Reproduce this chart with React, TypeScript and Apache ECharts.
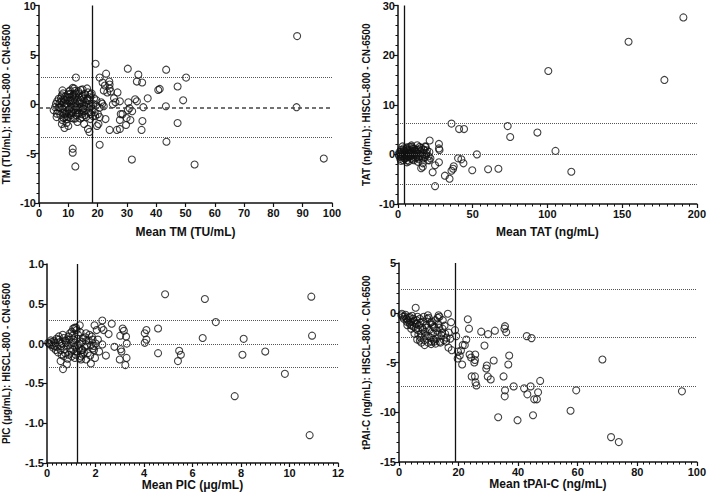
import React, { useEffect, useRef } from "react";
import * as echarts from "echarts";

// ---- Data ----
const tmPoints: [number, number][] = [
  [88.1, 6.9], [87.9, -0.3], [97.2, -5.5], [53.1, -6.1], [31.7, -5.6], [12.4, -6.3], [11.5, -4.5], [11.5, -4.9],
  [20.7, -4.1], [43.5, -3.8], [50.2, 2.7], [43.4, 3.5], [30.3, 3.6], [33.9, 3.0], [33.4, 2.3], [35.2, 2.2],
  [19.3, 4.1], [22.9, 3.1], [20.7, 2.7], [12.6, 2.7], [47.3, 1.8], [49.2, 0.4], [40.7, 1.45], [41.2, 1.55],
  [37.1, 0.6], [43.3, -0.2], [35.6, -0.3], [32.8, 0.5], [33.4, 0.3], [35.3, -1.7], [35.0, -2.6], [47.3, -1.9],
  [30.5, 0.2], [30.9, -0.4], [30.3, -0.6], [31.8, -0.7], [31.2, -1.6], [29.9, -1.4], [29.7, -2.1], [27.6, -1.6],
  [27.9, -1.0], [28.5, -1.0], [27.6, 0.3], [26.6, -2.6], [27.6, -2.5], [24.1, -2.6], [26.8, 1.2], [25.6, 0.6],
  [24.1, 1.6], [24.5, 1.3], [22.5, 1.9], [24.1, 2.0], [24.0, 2.3], [22.1, 1.4], [23.3, 1.2], [21.7, 2.2],
  [26.1, 0.2], [25.2, 0.0], [22.7, -1.5], [20.3, -2.0], [19.8, -2.2], [19.2, -1.2], [20.1, -1.0], [20.7, -1.3],
  [21.2, 0.2], [21.6, 0.05], [22.1, -0.2], [19.6, 0.4], [20.7, -0.35], [19.0, -0.8], [18.1, -0.45], [18.5, 0.05],
  [17.6, -1.0], [16.7, -2.5], [17.2, -2.8], [15.4, -2.0], [7.8, -2.0], [8.7, -2.4], [10.0, -2.2],
  [5.0, -0.6], [5.8, 0.05], [6.7, 0.55], [7.2, -0.3], [7.8, 0.9], [8.4, 0.2], [8.7, -1.0], [9.1, -0.3],
  [9.5, 0.7], [9.8, -1.3], [10.0, 0.4], [10.4, -0.45], [10.7, 1.05], [10.9, -1.1], [11.1, 0.05], [11.5, 1.65],
  [11.8, -0.6], [12.0, 0.55], [12.3, -1.45], [12.6, 1.1], [12.9, -0.2], [13.2, -0.95], [13.6, 0.7], [13.9, 0.2],
  [14.3, 1.45], [14.5, -0.6], [14.8, -1.3], [15.2, 0.55], [15.6, 1.05], [16.0, -0.2], [16.3, 0.4], [16.7, 1.2],
  [17.1, -0.8], [17.4, 0.7], [15.7, -1.1], [6.1, -0.95], [6.9, -0.35], [7.6, 0.3], [8.0, -0.8], [8.5, 0.5],
  [8.9, -1.3], [9.3, 0.05], [9.6, -0.7], [10.3, -0.95], [10.6, 0.4], [11.0, -0.3], [11.4, 0.85], [11.7, 0.4],
  [12.5, 0.05], [12.8, -0.6], [13.4, -0.35], [13.8, -0.9], [14.2, 0.05], [14.7, 0.7], [15.1, -0.45], [16.2, -0.6],
  [15.4, -0.1], [16.9, 0.0], [14.1, -1.45], [11.7, -1.45], [9.5, -1.5], [8.4, -1.4], [8.9, 0.75], [6.7, -0.3],
  [10.6, 1.4], [12.3, 1.35], [13.4, 1.3], [16.5, 0.6], [17.6, 1.0], [11.1, -0.75],
  [5.5, -0.3], [6.2, 0.3], [6.5, -0.7], [7.0, 0.1], [7.3, -1.1], [7.5, 0.6], [8.1, -0.5], [8.2, 1.1],
  [8.6, -0.1], [9.0, 0.4], [9.2, -0.9], [9.7, 0.0], [9.9, 1.0], [10.2, -0.6], [10.5, 0.7], [10.8, -1.4],
  [11.2, 0.3], [11.3, -0.9], [11.9, 1.0], [12.1, -0.2], [12.4, 0.8], [12.7, -1.1], [13.0, 0.3], [13.3, -0.6],
  [13.7, 1.1], [14.0, -0.3], [14.4, 0.4], [14.6, -1.0], [15.0, 0.9], [15.3, -0.7], [15.8, 0.2], [16.1, -1.3],
  [16.6, -0.3], [17.0, 0.4], [17.8, -0.2], [18.4, -1.2], [18.8, 0.6], [9.4, -1.9], [13.1, -1.8], [7.9, -1.6],
  [12.0, 1.6], [14.9, 1.5], [16.4, 1.6], [10.3, 1.3], [8.0, 1.4], [6.0, -1.3], [17.5, -1.5], [19.5, -0.1],
  [18.0, 1.1],
];
const tmLines = { upper: 2.7, mean: -0.32, lower: -3.33, cutoff: 18.1 };

const tatPoints: [number, number][] = [
  [191, 27.6], [154.3, 22.7], [178.3, 15.0], [100.6, 16.8], [35.8, 6.2], [73.4, 5.7], [40.9, 5.1], [44.2, 5.1],
  [93.3, 4.4], [75.1, 3.5], [105.4, 0.7], [116.0, -3.5], [67.2, -2.9], [60.3, -3.0], [49.7, -3.2], [52.8, 0.0],
  [24.8, -6.4], [34.5, -4.9], [31.4, -4.3], [23.2, -3.6], [24.8, -2.2], [27.4, -1.6], [35.8, -3.3], [36.9, -2.9],
  [37.3, -2.4], [40.2, -0.8], [42.4, -1.0], [43.8, -1.8], [21.2, 2.8], [27.4, 2.1], [27.4, 1.2], [27.8, 0.9],
  [19.4, 0.8], [18.1, 1.6], [21.7, -0.8], [21.0, -1.2], [16.6, -1.8], [15.5, -2.8], [16.6, -2.5],
  [0.4, 0.0], [2.2, 0.5], [3.3, -0.37], [4.4, 0.3], [5.5, -0.5], [6.6, 0.84], [7.7, 0.03], [8.8, -0.84],
  [9.9, 1.17], [11.0, -0.17], [12.2, 0.5], [13.3, -0.64], [14.4, 1.5], [15.5, 0.17], [16.6, -0.84], [17.7, 0.84],
  [18.8, -0.17], [19.9, -1.17], [13.3, -1.5], [10.6, -1.17], [7.7, 1.5], [12.8, 1.84], [15.5, 1.3], [8.8, 0.5],
  [4.4, -0.84], [6.2, -1.17], [14.6, -0.37], [17.2, 0.03], [18.6, 1.5], [21.0, 0.5], [2.7, 0.0], [4.0, 0.84],
  [4.9, -0.17], [7.1, -0.5], [8.4, 0.3], [9.3, 1.5], [11.5, 0.84], [12.4, -0.5], [10.2, 0.17], [5.7, 1.17],
  [1.3, 0.17], [1.8, -0.5],
  [0.8, -0.4], [1.0, 0.5], [1.5, -0.9], [2.0, 0.9], [2.4, -0.3], [3.0, 0.4], [3.5, -1.2], [3.8, 1.2],
  [4.2, -0.1], [4.7, 0.6], [5.0, -0.8], [5.3, 0.2], [5.9, 1.4], [6.3, -0.3], [6.9, 0.4], [7.3, -1.4],
  [7.9, 0.9], [8.2, -0.4], [9.0, -0.1], [9.6, 0.7], [10.0, -1.0], [10.8, 1.1], [11.2, 0.2], [11.8, -0.7],
  [12.6, 0.9], [13.0, 0.1], [13.8, 1.0], [14.2, -1.0], [15.0, 0.6], [16.0, -0.3], [17.0, 1.0], [18.0, -0.6],
  [19.0, 0.3], [20.5, -0.4], [3.0, 1.6], [9.0, 1.8], [6.0, -1.6], [2.0, -1.3],
];
const tatLines = { upper: 6.3, mean: 0.05, lower: -6.05, cutoff: 4 };

const picPoints: [number, number][] = [
  [4.87, 0.62], [6.51, 0.56], [10.9, 0.59], [6.96, 0.27], [6.42, 0.07], [8.11, 0.06], [10.93, 0.1], [8.06, -0.14],
  [9.0, -0.1], [9.81, -0.38], [7.74, -0.66], [10.83, -1.15], [5.45, -0.09], [5.4, -0.22], [5.52, -0.14], [4.58, -0.12],
  [4.58, 0.19], [4.03, 0.01], [4.1, 0.05], [4.1, 0.17], [4.03, 0.13], [3.29, 0.0], [3.26, 0.09], [3.23, -0.27],
  [3.28, -0.18], [3.17, 0.16], [3.12, 0.19], [3.02, 0.1], [3.04, -0.07], [3.07, -0.1], [3.0, -0.2], [2.78, -0.04],
  [2.67, 0.25], [2.43, -0.15], [2.54, 0.12], [2.28, -0.01], [2.28, 0.29], [2.25, 0.2], [2.33, 0.17], [2.05, 0.17],
  [1.96, 0.23], [1.88, -0.06], [1.81, -0.25], [1.61, -0.2], [1.46, -0.08], [1.4, -0.16], [1.35, 0.23], [1.08, 0.19],
  [1.14, 0.2], [0.66, -0.32], [0.82, -0.26], [0.56, -0.22],
  [0.09, 0.0], [0.22, -0.02], [0.29, 0.03], [0.42, -0.04], [0.49, 0.05], [0.56, -0.08], [0.62, 0.0], [0.69, 0.07],
  [0.75, -0.12], [0.82, -0.02], [0.89, 0.09], [0.95, -0.06], [1.02, -0.16], [1.08, 0.05], [1.15, -0.04], [1.22, -0.1],
  [1.28, 0.11], [1.35, 0.0], [1.42, -0.08], [1.48, 0.07], [1.55, -0.04], [1.61, 0.03], [1.68, -0.12], [1.75, 0.11],
  [1.81, -0.02], [1.88, 0.05], [1.94, -0.08], [2.01, 0.0], [1.02, 0.15], [1.22, 0.17], [0.89, -0.14], [1.15, -0.18],
  [1.35, -0.18], [0.36, -0.08], [0.69, -0.16], [0.49, 0.09], [1.48, -0.14], [1.61, 0.13], [0.16, 0.04], [1.28, -0.02],
  [0.79, 0.03], [0.98, 0.0], [1.08, -0.08],
  [0.05, 0.01], [0.12, -0.01], [0.18, 0.02], [0.25, -0.05], [0.32, 0.01], [0.39, 0.06], [0.45, -0.11], [0.52, 0.02],
  [0.59, -0.03], [0.65, 0.11], [0.72, -0.07], [0.78, 0.01], [0.85, -0.19], [0.92, 0.05], [1.0, -0.1], [1.05, 0.1],
  [1.12, 0.01], [1.18, -0.14], [1.25, 0.06], [1.32, -0.06], [1.38, 0.14], [1.45, 0.02], [1.52, -0.11], [1.58, 0.08],
  [1.65, -0.02], [1.72, 0.04], [1.78, -0.15], [1.85, 0.09], [1.92, -0.03], [1.98, -0.18], [2.1, 0.05], [2.15, -0.1],
  [0.6, -0.14], [0.95, 0.13], [1.2, 0.2], [1.4, -0.2], [0.3, -0.03], [0.75, 0.04],
];
const picLines = { upper: 0.29, mean: -0.01, lower: -0.3, cutoff: 1.26 };

const tpaiPoints: [number, number][] = [
  [95.0, -7.9], [68.3, -4.7], [59.5, -7.8], [57.6, -9.85], [71.2, -12.5], [73.8, -13.0], [33.3, -10.5], [39.8, -10.8],
  [45.0, -10.3], [45.4, -8.7], [46.3, -8.7], [46.7, -8.0], [47.4, -6.85], [44.2, -7.4], [43.1, -8.2], [42.0, -7.6],
  [38.5, -7.4], [35.6, -7.8], [35.5, -8.4], [35.1, -6.4], [36.7, -5.2], [37.0, -4.3], [42.9, -2.35], [44.5, -2.55],
  [35.6, -1.35], [35.4, -1.6], [36.0, -1.95], [32.2, -1.8], [27.6, -1.9], [29.9, -2.15], [28.7, -3.3], [31.8, -4.8],
  [30.8, -6.7], [29.8, -6.4], [29.5, -5.3], [29.3, -5.6], [25.5, -6.4], [25.7, -7.0], [26.0, -7.3], [24.4, -6.4],
  [23.1, -0.65], [23.5, -1.6], [22.6, -2.7], [22.1, -3.25], [21.4, -3.25], [23.7, -4.2], [24.2, -4.5], [25.6, -4.2],
  [25.5, -4.75], [25.3, -5.0], [21.2, -5.2], [20.4, -4.3], [20.8, -3.8], [19.7, -4.6], [19.8, -3.9], [18.8, -1.75],
  [19.2, -2.35], [17.7, -3.76], [16.6, -3.5], [16.4, -0.1], [17.5, -0.95], [13.3, -0.25], [5.6, 0.5],
  [0.8, -0.25], [1.3, -0.4], [1.9, -0.35], [2.5, -0.6], [3.0, -0.75], [2.8, -1.25], [3.6, -0.4], [4.1, -0.9],
  [4.7, -0.6], [5.0, -1.4], [5.5, -1.1], [5.9, -0.75], [6.4, -1.75], [6.7, -1.25], [7.0, -0.6], [7.5, -2.1],
  [7.8, -1.5], [8.1, -0.9], [8.6, -2.75], [8.8, -1.9], [9.1, -1.25], [9.5, -0.6], [9.9, -2.35], [10.3, -1.7],
  [10.6, -1.0], [11.0, -2.9], [11.4, -2.1], [11.7, -1.4], [12.2, -0.75], [12.5, -2.6], [12.8, -1.8], [13.3, -1.15],
  [13.7, -2.9], [14.2, -2.25], [14.6, -1.6], [15.1, -2.75], [15.5, -2.1], [16.0, -2.5], [14.7, -0.75], [13.6, -0.4],
  [4.1, -1.6], [5.2, -2.1], [6.1, -2.7], [7.5, -3.0], [8.6, -3.25], [10.8, -3.15], [11.9, -2.9], [9.7, -0.25],
  [1.0, -0.1], [1.6, -0.6], [2.2, -0.2], [2.6, -0.9], [3.3, -0.5], [3.8, -1.2], [4.4, -0.3], [4.4, -1.3],
  [5.1, -0.8], [5.7, -1.6], [6.2, -0.4], [6.5, -2.2], [7.2, -1.0], [7.3, -2.5], [8.0, -1.7], [8.3, -0.4],
  [8.9, -2.3], [9.3, -1.5], [9.8, -3.0], [10.0, -0.5], [10.5, -2.5], [11.1, -1.2], [11.6, -2.7], [12.0, -1.5],
  [12.3, -3.1], [12.9, -2.2], [13.5, -1.5], [13.9, -3.0], [14.4, -2.0], [15.3, -1.3], [15.8, -2.9], [16.7, -2.0],
  [17.2, -2.6], [13.0, -0.5], [7.0, -2.8], [3.5, -1.0], [6.0, -1.1], [11.0, -0.9],
];
const tpaiLines = { upper: 2.32, mean: -2.49, lower: -7.37, cutoff: 18.95 };

const xNames = ["Mean TM (TU/mL)", "Mean TAT (ng/mL)", "Mean PIC (μg/mL)", "Mean tPAI-C (ng/mL)"];
const yNames = [
  "TM (TU/mL): HISCL-800 - CN-6500",
  "TAT (ng/mL): HISCL-800 - CN-6500",
  "PIC (μg/mL): HISCL-800 - CN-6500",
  "tPAI-C (ng/mL): HISCL-800 - CN-6500",
];

const FONT = "Liberation Sans, Arial, sans-serif";

export default function App() {
  const ref = useRef<HTMLDivElement>(null);
  useEffect(() => {
    if (!ref.current) return;
    const chart = echarts.init(ref.current, null, { renderer: "svg" });

    const grids = [
      { left: 33, top: 4.5, width: 299, height: 198.5 },
      { left: 398, top: 5, width: 302, height: 199 },
      { left: 36, top: 264, width: 302, height: 199 },
      { left: 399, top: 263, width: 299, height: 199 },
    ];
    const xCfg = [
      { min: 0, max: 100, interval: 10, minor: 0, gap: 23 },
      { min: 0, max: 200, interval: 50, minor: 10, gap: 22 },
      { min: 0, max: 12, interval: 2, minor: 10, gap: 16 },
      { min: 0, max: 100, interval: 20, minor: 10, gap: 16 },
    ];
    const yCfg = [
      { min: -10, max: 10, interval: 5, minor: 5, gap: 28, dec: 0 },
      { min: -10, max: 30, interval: 10, minor: 5, gap: 27, dec: 0 },
      { min: -1.5, max: 1.0, interval: 0.5, minor: 0, gap: 36, dec: 1 },
      { min: -15, max: 5, interval: 5, minor: 5, gap: 28, dec: 0 },
    ];
    const pts = [tmPoints, tatPoints, picPoints, tpaiPoints];
    const lines = [tmLines, tatLines, picLines, tpaiLines];

    const axisLine = { show: true, onZero: false, lineStyle: { color: "#111", width: 1.5 } };
    const axisLabel = { color: "#111", fontSize: 11, fontWeight: "bold" as const, fontFamily: FONT };

    const xAxis = xCfg.map((c, i) => ({
      type: "value" as const,
      gridIndex: i,
      min: c.min,
      max: c.max,
      interval: c.interval,
      name: xNames[i],
      nameLocation: "middle" as const,
      nameGap: c.gap,
      nameMoveOverlap: false,
      nameTextStyle: { color: "#111", fontSize: 12, fontWeight: "bold" as const, fontFamily: FONT },
      axisLine,
      axisTick: { show: true, length: 4, lineStyle: { color: "#111", width: 1.2 } },
      minorTick: { show: c.minor > 0, splitNumber: c.minor || 5, length: 2.5, lineStyle: { color: "#111", width: 1 } },
      axisLabel: { ...axisLabel, margin: 4 },
      splitLine: { show: false },
    }));
    const yAxis = yCfg.map((c, i) => ({
      type: "value" as const,
      gridIndex: i,
      min: c.min,
      max: c.max,
      interval: c.interval,
      name: yNames[i],
      nameLocation: "middle" as const,
      nameGap: c.gap,
      nameTextStyle: { color: "#111", fontSize: 10, fontWeight: "bold" as const, fontFamily: FONT },
      axisLine,
      axisTick: { show: true, length: 4, lineStyle: { color: "#111", width: 1.2 } },
      minorTick: { show: c.minor > 0, splitNumber: c.minor || 5, length: 2.5, lineStyle: { color: "#111", width: 1 } },
      axisLabel: { ...axisLabel, margin: 3, formatter: (v: number) => v.toFixed(c.dec) },
      splitLine: { show: false },
    }));

    const series = pts.map((data, i) => {
      const L = lines[i];
      const dotted = { type: "dotted" as const, color: "#555", width: 1 };
      return {
        type: "scatter" as const,
        xAxisIndex: i,
        yAxisIndex: i,
        data,
        symbol: "circle",
        symbolSize: 7,
        itemStyle: { color: "rgba(255,255,255,0)", borderColor: "#111", borderWidth: 1.1 },
        markLine: {
          silent: true,
          symbol: ["none", "none"],
          label: { show: false },
          animation: false,
          data: [
            { yAxis: L.upper, lineStyle: dotted },
            {
              yAxis: L.mean,
              lineStyle: i === 0 ? { type: [4, 3], color: "#444", width: 1.5 } : dotted,
            },
            { yAxis: L.lower, lineStyle: dotted },
            { xAxis: L.cutoff, lineStyle: { type: "solid" as const, color: "#111", width: 1.3 } },
          ],
        },
      };
    });

    chart.setOption({
      animation: false,
      backgroundColor: "#fff",
      grid: grids,
      xAxis,
      yAxis,
      series,
    });
    return () => chart.dispose();
  }, []);
  return (
    <div
      ref={ref}
      style={{ position: "absolute", left: 0, top: 0, width: 709, height: 498 }}
    />
  );
}
